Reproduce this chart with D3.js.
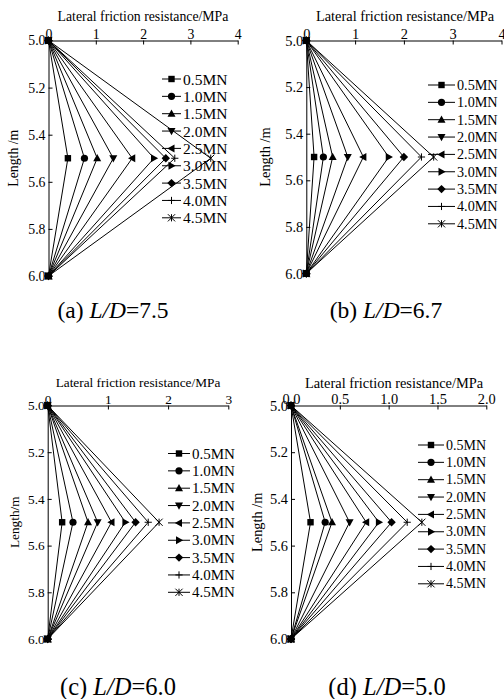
<!DOCTYPE html>
<html lang="en">
<head>
    <meta charset="UTF-8">
    <title>Lateral friction resistance</title>
    <style>
        body {
            margin: 0;
            padding: 0;
            background: #fff;
        }
        svg text {
            font-family: "Liberation Serif", "Times New Roman", serif;
            fill: #000;
        }
    </style>
</head>
<body>
    <svg id="chart" width="504" height="699"></svg>
    <script src="https://d3js.org/d3.v7.min.js"></script>
    <script>
        // loads (legend) and depths where the friction is read
        const loads = ['0.5MN', '1.0MN', '1.5MN', '2.0MN', '2.5MN', '3.0MN', '3.5MN', '4.0MN', '4.5MN'];
        const depths = [5.0, 5.5, 6.0];
        const depthTicks = [5.0, 5.2, 5.4, 5.6, 5.8, 6.0];

        // peak lateral friction at 5.5 m, MPa
        const fricA = [0.41, 0.76, 1.03, 1.37, 1.77, 2.23, 2.48, 2.67, 3.43];
        const fricB = [0.16, 0.35, 0.54, 0.85, 1.17, 1.69, 2.00, 2.36, 2.61];
        const fricC = [0.24, 0.42, 0.67, 0.83, 1.06, 1.29, 1.46, 1.67, 1.85];
        const fricD = [0.20, 0.35, 0.42, 0.60, 0.77, 0.90, 1.03, 1.19, 1.34];

        const ticksA = [0, 1, 2, 3, 4];
        const ticksB = [0, 1, 2, 3, 4];
        const ticksC = [0, 1, 2, 3];
        const ticksD = [0, 0.5, 1.0, 1.5, 2.0];

        const panels = [
            { data: fricA, ticks: ticksA, fmt: d3.format('d'), x0: 48.5, x1: 237.7, y0: 40.5, y1: 276, fs: 13.8, lfs: 15.5,
              ylab: 'Length /m', ylx: 15, cap: ['(a) ', 'L/D', '=7.5'], capX: 113, capY: 318, capFs: 23.5,
              lx: 162, ly: 79, ll: 19, titleX: 143, titleY: 21 },
            { data: fricB, ticks: ticksB, fmt: d3.format('d'), x0: 306.3, x1: 501.5, y0: 40.5, y1: 273.5, fs: 14.4, lfs: 14.2,
              ylab: 'Length /m', ylx: 267, cap: ['(b) ', 'L/D', '=6.7'], capX: 386, capY: 318, capFs: 23.5,
              lx: 428, ly: 85, ll: 27, titleX: 405, titleY: 21 },
            { data: fricC, ticks: ticksC, fmt: d3.format('d'), x0: 47.7, x1: 228.3, y0: 405.5, y1: 639, fs: 13.3, lfs: 15,
              ylab: 'Length/m', ylx: 16, cap: ['(c) ', 'L/D', '=6.0'], capX: 118, capY: 695, capFs: 24.5,
              lx: 168, ly: 453.5, ll: 22, titleX: 138, titleY: 387 },
            { data: fricD, ticks: ticksD, fmt: d3.format('.1f'), x0: 291, x1: 486.3, y0: 405.5, y1: 639, fs: 14.4, lfs: 14,
              ylab: 'Length /m', ylx: 259, cap: ['(d) ', 'L/D', '=5.0'], capX: 387, capY: 695, capFs: 24.5,
              lx: 418, ly: 445, ll: 26, titleX: 394, titleY: 388 }
        ];

        const svg = d3.select('#chart');

        // marker shapes, one per load
        function drawMarker(g, i, x, y) {
            const s = 3.6;
            const m = g.append('g').attr('transform', `translate(${x},${y})`);
            const poly = pts => m.append('polygon').attr('points', pts.map(p => p.join(',')).join(' ')).attr('fill', '#000');
            switch (i) {
                case 0: m.append('rect').attr('x', -3.2).attr('y', -3.2).attr('width', 6.4).attr('height', 6.4).attr('fill', '#000'); break;
                case 1: m.append('circle').attr('r', 3.6).attr('fill', '#000'); break;
                case 2: poly([[0, -s - 0.6], [s + 0.4, s - 0.6], [-s - 0.4, s - 0.6]]); break;
                case 3: poly([[0, s + 0.6], [s + 0.4, -s + 0.6], [-s - 0.4, -s + 0.6]]); break;
                case 4: poly([[-s - 0.6, 0], [s - 0.6, -s - 0.4], [s - 0.6, s + 0.4]]); break;
                case 5: poly([[s + 0.6, 0], [-s + 0.6, -s - 0.4], [-s + 0.6, s + 0.4]]); break;
                case 6: poly([[0, -s - 0.6], [s + 0.6, 0], [0, s + 0.6], [-s - 0.6, 0]]); break;
                case 7:
                    m.append('path').attr('d', `M${-s},0H${s}M0,${-s}V${s}`).attr('stroke', '#000').attr('stroke-width', 1);
                    break;
                default:
                    m.append('path').attr('d', `M${-s},${-s}L${s},${s}M${-s},${s}L${s},${-s}M0,${-s}V${s}`)
                        .attr('stroke', '#000').attr('stroke-width', 1);
            }
        }

        panels.forEach(p => {
            const xMax = p.ticks[p.ticks.length - 1];
            const x = d3.scaleLinear().domain([0, xMax]).range([p.x0, p.x1]);
            const y = d3.scaleLinear().domain([5.0, 6.0]).range([p.y0, p.y1]);
            const g = svg.append('g');

            // top axis, ticks pointing inward
            const xAxis = g.append('g')
                .attr('transform', `translate(0,${p.y0})`)
                .call(d3.axisTop(x).tickValues(p.ticks).tickFormat(p.fmt).tickSizeInner(-4).tickSizeOuter(0).tickPadding(2));
            xAxis.selectAll('text').attr('font-size', p.fs).attr('font-family', '"Liberation Serif", serif');

            const yAxis = g.append('g')
                .attr('transform', `translate(${p.x0},0)`)
                .call(d3.axisLeft(y).tickValues(depthTicks).tickFormat(d3.format('.1f')).tickSizeInner(-4).tickSizeOuter(0).tickPadding(3));
            yAxis.selectAll('text').attr('font-size', p.fs).attr('font-family', '"Liberation Serif", serif');
            g.selectAll('.domain, .tick line').attr('stroke', '#000').attr('stroke-width', 1);

            g.append('text')
                .attr('x', p.titleX).attr('y', p.titleY)
                .attr('text-anchor', 'middle').attr('font-size', p.fs)
                .text('Lateral friction resistance/MPa');

            g.append('text')
                .attr('transform', `translate(${p.ylx},${(p.y0 + p.y1) / 2}) rotate(-90)`)
                .attr('text-anchor', 'middle').attr('dominant-baseline', 'middle').attr('font-size', p.fs)
                .text(p.ylab);

            const line = d3.line().x(d => x(d[0])).y(d => y(d[1]));
            p.data.forEach((v, i) => {
                const pts = depths.map((dp, k) => [k === 1 ? v : 0, dp]);
                g.append('path').attr('d', line(pts)).attr('fill', 'none').attr('stroke', '#000').attr('stroke-width', 1);
                pts.forEach(pt => drawMarker(g, i, x(pt[0]), y(pt[1])));
            });

            // legend
            const rowH = 17.35;
            loads.forEach((name, i) => {
                const ry = p.ly + i * rowH;
                g.append('line').attr('x1', p.lx).attr('x2', p.lx + p.ll).attr('y1', ry).attr('y2', ry)
                    .attr('stroke', '#000').attr('stroke-width', 1);
                drawMarker(g, i, p.lx + p.ll / 2, ry);
                g.append('text').attr('x', p.lx + p.ll + 2).attr('y', ry)
                    .attr('dominant-baseline', 'central').attr('font-size', p.lfs)
                    .text(name);
            });

            // caption
            const cap = g.append('text')
                .attr('x', p.capX).attr('y', p.capY)
                .attr('text-anchor', 'middle').attr('font-size', p.capFs);
            cap.append('tspan').text(p.cap[0]);
            cap.append('tspan').attr('font-style', 'italic').text(p.cap[1]);
            cap.append('tspan').text(p.cap[2]);
        });
    </script>
</body>
</html>
